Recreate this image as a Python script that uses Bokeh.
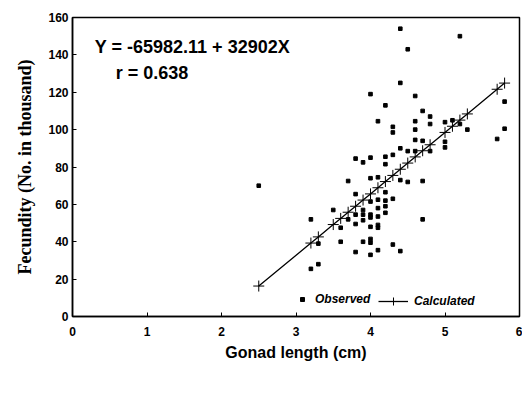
from bokeh.plotting import figure
from bokeh.models import (FixedTicker, Label, Legend, LegendItem, Range1d)
from bokeh.embed import file_html
from bokeh.resources import INLINE

# Observed data: gonad length (cm) vs fecundity (thousand)
obs_x = [4.4, 5.2, 4.5, 4.4, 4.0, 4.6, 4.2, 4.7, 4.1, 4.8,
         4.6, 4.8, 4.3, 4.3, 4.6, 5.0, 5.1, 5.2, 5.3, 5.8,
         5.8, 5.7, 4.6, 4.7, 5.0, 5.0, 4.4, 4.5, 4.8, 4.3,
         4.2, 4.0, 3.8, 3.9, 4.2, 4.6, 3.7, 4.0, 4.1, 4.2,
         4.4, 4.5, 4.7, 4.3, 3.8, 4.0, 4.1, 4.2, 4.2, 4.2,
         4.1, 4.1, 3.9, 3.9, 4.0, 4.0, 3.5, 3.8, 3.7, 3.8,
         3.9, 3.6, 4.0, 4.1, 4.1, 3.2, 4.7, 3.3, 3.6, 3.9,
         4.0, 4.0, 3.8, 4.0, 4.1, 4.3, 4.4, 3.2, 3.3, 2.5]
obs_y = [154, 150, 143, 125, 119, 118, 113, 110, 104.5, 107,
         104.5, 103, 101.5, 98.5, 100, 104, 105, 103, 100, 115,
         100.5, 95, 94.5, 94, 93.5, 90.5, 90, 88.5, 88.5, 86.5,
         85.5, 85, 84.5, 82.5, 81.5, 88.5, 72.5, 74, 74.5, 66.5,
         73, 72, 72.5, 63, 65.5, 61.5, 62.5, 62, 59, 55.5,
         58, 53.5, 57, 54.5, 54.5, 53, 57, 54.5, 52, 49.5,
         51.5, 47.5, 48, 49, 47.5, 52, 52, 39, 40, 40,
         41.5, 39.5, 34.5, 33, 35.5, 38.5, 35, 25.5, 28, 70]

# Calculated (regression) values
calc_x = [2.5, 3.2, 3.3, 3.5, 3.6, 3.7, 3.8, 3.9, 4.0, 4.1, 4.2, 4.3,
          4.4, 4.5, 4.6, 4.7, 4.8, 5.0, 5.1, 5.2, 5.3, 5.7, 5.8]
calc_y = [16.3, 39.3, 42.6, 49.2, 52.5, 55.8, 59.0, 62.3, 65.6, 68.9, 72.2, 75.5,
          78.8, 82.1, 85.4, 88.7, 91.9, 98.5, 101.8, 105.1, 108.4, 121.6, 124.9]

x_ticks = [0, 1, 2, 3, 4, 5, 6]
y_ticks = [0, 20, 40, 60, 80, 100, 120, 140, 160]

equation_text = "Y = -65982.11 + 32902X"
r_text = "r = 0.638"
x_title = "Gonad length (cm)"
y_title = "Fecundity (No. in thousand)"

p = figure(width=522, height=396, output_backend="svg", toolbar_location=None,
           x_range=Range1d(0, 6), y_range=Range1d(0, 160),
           min_border_left=72, min_border_right=3, min_border_top=17,
           min_border_bottom=80)
p.background_fill_color = "white"
p.border_fill_color = "white"
p.outline_line_color = "black"
p.outline_line_width = 1.5
p.xgrid.visible = False
p.ygrid.visible = False

sans = "Liberation Sans"
for ax in (p.xaxis[0], p.yaxis[0]):
    ax.axis_line_color = "black"
    ax.axis_line_width = 1.5
    ax.major_tick_in = 4
    ax.major_tick_out = 0
    ax.major_tick_line_color = "black"
    ax.minor_tick_line_color = None
    ax.major_label_text_font = sans
    ax.major_label_text_font_style = "bold"
    ax.major_label_text_font_size = "12px"
    ax.major_label_text_color = "black"
    ax.axis_label_text_color = "black"

p.xaxis[0].ticker = FixedTicker(ticks=x_ticks)
p.yaxis[0].ticker = FixedTicker(ticks=y_ticks)
p.xaxis[0].major_label_standoff = 10
p.yaxis[0].major_label_standoff = 4

p.xaxis[0].axis_label = x_title
p.xaxis[0].axis_label_text_font = sans
p.xaxis[0].axis_label_text_font_style = "bold"
p.xaxis[0].axis_label_text_font_size = "16px"
p.xaxis[0].axis_label_standoff = 5

p.yaxis[0].axis_label = y_title
p.yaxis[0].axis_label_text_font = "Liberation Serif"
p.yaxis[0].axis_label_text_font_style = "bold"
p.yaxis[0].axis_label_text_font_size = "18px"
p.yaxis[0].axis_label_standoff = 10

obs_r = p.scatter(obs_x, obs_y, marker="square", size=3.6,
                  fill_color="black", line_color="black")
line_r = p.line(calc_x, calc_y, line_color="black", line_width=1.3)
cross_r = p.scatter(calc_x, calc_y, marker="cross", size=11,
                    line_color="black", line_width=1)

legend_common = dict(orientation="horizontal", padding=0, margin=0,
                     label_standoff=8, background_fill_alpha=0,
                     border_line_color=None, label_text_font=sans,
                     label_text_font_style="bold italic",
                     label_text_font_size="12px", label_text_color="black")
leg_obs = Legend(items=[LegendItem(label="Observed", renderers=[obs_r])],
                 location=(225, 10), glyph_width=10, glyph_height=10,
                 **legend_common)
leg_calc = Legend(items=[LegendItem(label="Calculated", renderers=[line_r, cross_r])],
                  location=(306, 5), glyph_width=30, glyph_height=20,
                  **legend_common)
leg_calc.label_standoff = 6
p.add_layout(leg_obs, "center")
p.add_layout(leg_calc, "center")

p.add_layout(Label(x=0.3, y=144, text=equation_text, text_font=sans,
                   text_font_style="bold", text_font_size="18px",
                   text_color="black", text_baseline="alphabetic"))
p.add_layout(Label(x=0.58, y=130.5, text=r_text, text_font=sans,
                   text_font_style="bold", text_font_size="18px",
                   text_color="black", text_baseline="alphabetic"))

open("out.html", "w").write(file_html(p, INLINE))
